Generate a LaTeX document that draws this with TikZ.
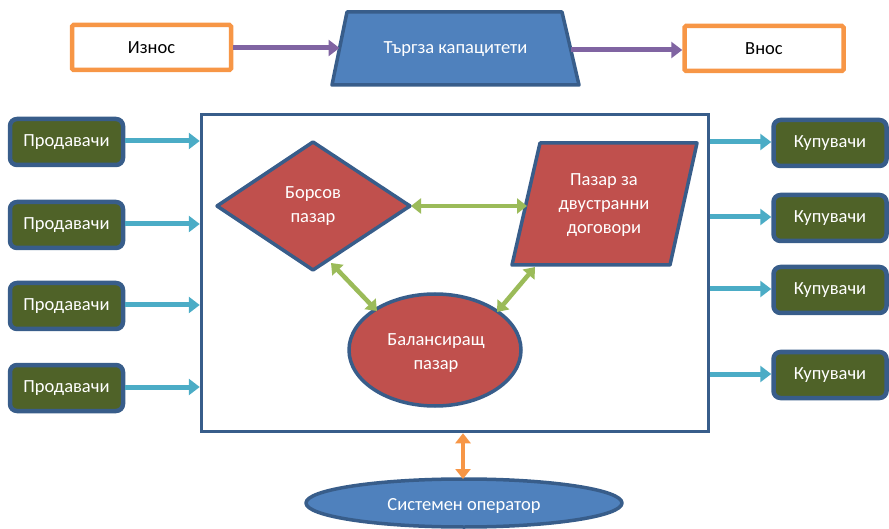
\documentclass[tikz,border=0pt]{standalone}
\usepackage{fontspec}
\setmainfont{Carlito}
\usetikzlibrary{arrows.meta}
\definecolor{orangeB}{HTML}{F79646}
\definecolor{blueF}{HTML}{4F81BD}
\definecolor{blueD}{HTML}{385D8A}
\definecolor{oliveF}{HTML}{4F6228}
\definecolor{redF}{HTML}{C0504D}
\definecolor{cyanA}{HTML}{4BACC6}
\definecolor{purpA}{HTML}{8064A2}
\definecolor{greenA}{HTML}{9BBB59}
\begin{document}
\begin{tikzpicture}[x=1pt,y=-1pt,
  txt/.style={font=\fontsize{18.5}{24}\selectfont, align=center},
  wbox/.style={txt, draw=orangeB, line width=4.5pt, fill=white, rounded corners=1.5pt,
    minimum width=159pt, minimum height=45pt, text=black},
  gbox/.style={txt, draw=blueD, line width=4.5pt, fill=oliveF, rounded corners=7pt,
    minimum width=113pt, minimum height=46pt, text=white, inner sep=0pt},
  redshape/.style={draw=blueD, line width=3.5pt, fill=redF, line join=round},
  bluesh/.style={draw=blueD, line width=3.5pt, fill=blueF, line join=round},
  arr/.style={line width=5pt, -{Triangle[width=16pt,length=11pt]}},
  darr/.style={line width=4.5pt, {Triangle[width=15pt,length=10pt]}-{Triangle[width=15pt,length=10pt]}},
]
\useasboundingbox (0,0) rectangle (889,529);

% top row
\node[wbox] (iznos) at (151.5,47.5) {Износ};
\node[wbox] (vnos) at (764,48.5) {Внос};
\draw[bluesh] (347,12) -- (562,12) -- (579,85) -- (332,85) -- cycle;
\node[txt, text=white] (trg) at (455.5,49) {Търгза капацитети};
\coordinate (trgL) at (339.5,48);
\coordinate (trgR) at (571,50);
\draw[arr, purpA] (iznos.east |- trgL) -- (trgL);
\draw[arr, purpA] (trgR) -- (trgR -| vnos.west);

% main frame
\node[draw=blueD, line width=3.5pt, fill=white, minimum width=507pt, minimum height=317pt] (main) at (455,273) {};

% sellers
\node[gbox] (s1) at (66.5,142) {Продавачи};
\node[gbox] (s2) at (66.5,225) {Продавачи};
\node[gbox] (s3) at (66.5,306) {Продавачи};
\node[gbox] (s4) at (66.5,388) {Продавачи};
\foreach \s in {s1,s2,s3,s4}
  \draw[arr, cyanA] ([yshift=1pt]\s.east) -- ([yshift=1pt]\s.east -| main.west);

% buyers
\node[gbox] (b1) at (830,143) {Купувачи};
\node[gbox] (b2) at (830,218) {Купувачи};
\node[gbox] (b3) at (830,290) {Купувачи};
\node[gbox] (b4) at (830,375) {Купувачи};
\foreach \b in {b1,b2,b3,b4}
  \draw[arr, cyanA] ([yshift=1pt]\b.west -| main.east) -- ([yshift=1pt]\b.west);

% inner shapes
\draw[redshape] (217,206) -- (313,142) -- (410,206) -- (313,270) -- cycle;
\node[txt, text=white] (bors) at (313,206) {Борсов\\пазар};
\draw[redshape] (540,143) -- (697,143) -- (670,265) -- (512,265) -- cycle;
\node[txt, text=white] (dvu) at (604,205) {Пазар за\\двустранни\\договори};
\draw[redshape] (435,350) ellipse [x radius=86, y radius=56];
\node[txt, text=white] (bal) at (436,353) {Балансиращ\\пазар};

\coordinate (borsR) at (411,206);
\coordinate (dvuL) at (527,206);
\coordinate (borsB) at (331,263);
\coordinate (balL) at (377,311);
\coordinate (dvuB) at (535,267);
\coordinate (balR) at (497,312);
\draw[darr, greenA] (borsR) -- (dvuL);
\draw[darr, greenA] (borsB) -- (balL);
\draw[darr, greenA] (dvuB) -- (balR);

% system operator
\draw[bluesh] (464,503) ellipse [x radius=158, y radius=24];
\node[txt, text=white] (sys) at (464,506) {Системен оператор};
\coordinate (sysT) at (463,479);
\draw[darr, orangeB] (main.south -| sysT) -- (sysT);
\end{tikzpicture}
\end{document}
